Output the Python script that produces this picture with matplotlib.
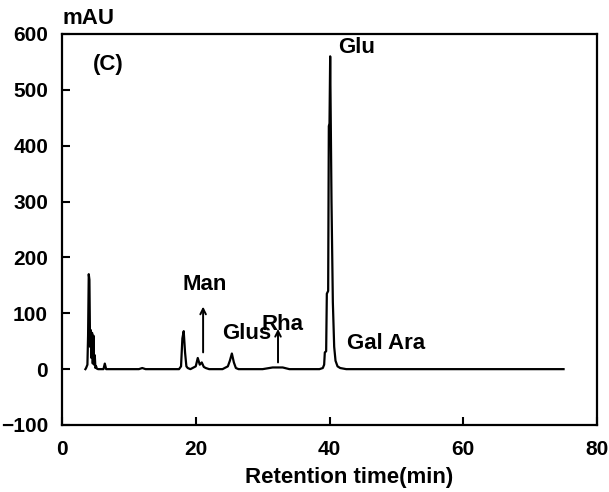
import matplotlib.pyplot as plt
import numpy as np

plt.rcParams['font.family'] = ['Liberation Sans', 'DejaVu Sans']
plt.rcParams['font.weight'] = 'bold'

# Cromatograma (tiempo en min, señal en mAU)
tiempo = [3.5, 3.6, 3.8, 3.9, 4.0, 4.1, 4.2, 4.3, 4.4, 4.5, 4.6, 4.7, 4.8, 4.9, 5.0,
          5.1, 5.2, 5.4, 5.6, 6.2, 6.4, 6.6, 6.9, 11.5, 12.0, 12.5, 17.5, 17.8, 18.0,
          18.2, 18.4, 18.6, 18.8, 19.2, 20.0, 20.3, 20.6, 20.9, 21.2, 21.5, 22.0,
          24.0, 24.8, 25.1, 25.4, 25.7, 26.0, 26.4, 30.0, 31.5, 33.0, 34.0, 38.5,
          39.0, 39.2, 39.3, 39.5, 39.6, 39.8, 39.9, 40.0, 40.1, 40.3, 40.5, 40.7,
          40.9, 41.2, 41.6, 42.5, 50.0, 60.0, 75.0]
senal = [0, 2, 8, 60, 170, 160, 40, 70, 20, 65, 10, 60, 8, 25, 2,
         5, 1, 0, 0, 0, 10, 0, 0, 0, 2, 0, 0, 5, 55,
         68, 30, 5, 2, 0, 5, 20, 8, 12, 4, 2, 0,
         0, 5, 15, 28, 12, 2, 0, 0, 3, 3, 0, 0,
         2, 8, 30, 32, 135, 140, 435, 440, 560, 300, 120, 40,
         15, 5, 2, 0, 0, 0, 0]

xticks = [0, 20, 40, 60, 80]
yticks = [-100, 0, 100, 200, 300, 400, 500, 600]

# Etiquetas de los picos: (texto, x, y)
etiquetas = [('(C)', 4.6, 546), ('Glu', 41.3, 576), ('Man', 18.0, 152),
             ('Glus', 23.9, 64), ('Rha', 29.9, 80), ('Gal Ara', 42.6, 46)]
# Flechas: (x, y inicio, y fin)
flechas = [(21.1, 30, 112), (32.3, 12, 72)]

fig = plt.figure(figsize=(6.09, 4.92), dpi=100)
ax = fig.add_axes([62 / 609, 1 - 425 / 492, 535 / 609, 391 / 492])

ax.plot(tiempo, senal, color='black', linewidth=1.6)

for texto, x, y in etiquetas:
    ax.text(x, y, texto, fontsize=16, fontweight='bold', ha='left', va='center')

for x, y0, y1 in flechas:
    ax.annotate('', xy=(x, y1), xytext=(x, y0),
                arrowprops=dict(arrowstyle='->', color='black', lw=1.4,
                                shrinkA=0, shrinkB=0))

ax.set_xlim(0, 80)
ax.set_ylim(-100, 600)
ax.set_xticks(xticks)
ax.set_yticks(yticks)
ax.tick_params(direction='in', length=6, width=1.5, labelsize=15)
ax.tick_params(axis='y', pad=10)
ax.tick_params(axis='x', pad=11)
for lbl in ax.get_xticklabels() + ax.get_yticklabels():
    lbl.set_fontweight('bold')
for s in ax.spines.values():
    s.set_linewidth(1.6)

ax.set_xlabel('Retention time(min)', fontsize=16, fontweight='bold')
ax.xaxis.set_label_coords((349 - 62) / 535, -0.108)
fig.text(62 / 609, 1 - 18 / 492, 'mAU', fontsize=16, fontweight='bold', ha='left', va='center')

fig.savefig('out.png', dpi=100)
